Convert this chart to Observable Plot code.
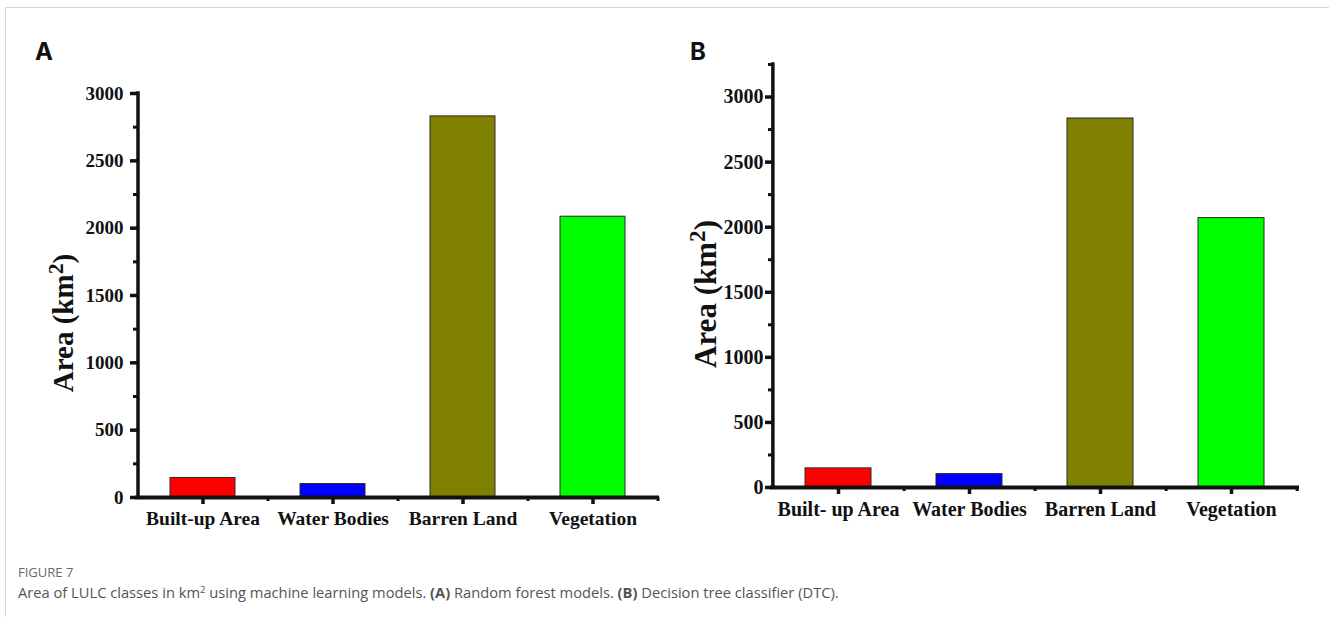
<!DOCTYPE html>
<html>
<head>
<meta charset="utf-8">
<script src="https://cdn.jsdelivr.net/npm/d3@7"></script>
<script src="https://cdn.jsdelivr.net/npm/@observablehq/plot@0.6"></script>
<style>
  html, body { margin: 0; padding: 0; background: #fff; }
  #fig { position: relative; width: 1329px; height: 617px; overflow: hidden; background: #fff; }
  #frame { position: absolute; left: 5px; top: 7px; right: -2px; bottom: -2px; border-top: 1px solid #d6d6d6; border-left: 1px solid #d6d6d6; }
  .panel { position: absolute; top: 0; }
  .letter { position: absolute; font-family: Inter, "Noto Sans", sans-serif; font-weight: 700; font-size: 24px; line-height: 1; color: #111; }
  .ylab { position: absolute; font-family: "Liberation Serif", "Times New Roman", serif; font-weight: bold; color: #111; white-space: nowrap; line-height: 1; transform: translate(-50%, -50%) rotate(-90deg); }
  .ylab sup { font-size: 0.75em; vertical-align: 0.45em; line-height: 0; }
  #cap1 { position: absolute; left: 18px; top: 563px; font-family: "Open Sans", "Noto Sans", sans-serif; font-size: 13px; color: #6a6a6a; }
  #cap2 { position: absolute; left: 18px; top: 582px; font-family: "Open Sans", "Noto Sans", sans-serif; font-size: 14.7px; color: #555; white-space: nowrap; }
  #cap2 sup { font-size: 0.65em; vertical-align: 0.5em; line-height: 0; }
</style>
</head>
<body>
<div id="fig">
  <div id="frame"></div>
  <div class="letter" style="left:35px; top:40px;">A</div>
  <div class="letter" style="left:690px; top:40px;">B</div>
  <div id="panelA" class="panel" style="left:0px;"></div>
  <div id="panelB" class="panel" style="left:680px;"></div>
  <div class="ylab" style="left:63px; top:323px; font-size:29px;">Area (km<sup>2</sup>)</div>
  <div class="ylab" style="left:705px; top:294px; font-size:31px;">Area (km<sup>2</sup>)</div>
  <div id="cap1">FIGURE 7</div>
  <div id="cap2">Area of LULC classes in km<sup>2</sup> using machine learning models. <b>(A)</b> Random forest models. <b>(B)</b> Decision tree classifier (DTC).</div>
</div>
<script>
// ---- data ----
const categoriesA = ["Built-up Area", "Water Bodies", "Barren Land", "Vegetation"];
const categoriesB = ["Built- up Area", "Water Bodies", "Barren Land", "Vegetation"];
const valuesA = [145, 100, 2830, 2085];
const valuesB = [147, 103, 2835, 2070];
const barColors = ["#ff0000", "#0000ff", "#808000", "#00ff00"];
const yMajorTicksA = [0, 500, 1000, 1500, 2000, 2500, 3000];
const yMinorTicksA = [250, 750, 1250, 1750, 2250, 2750];
const yMajorTicksB = [0, 500, 1000, 1500, 2000, 2500, 3000];
const yMinorTicksB = [250, 750, 1250, 1750, 2250, 2750, 3250];
const yDomainA = [0, 3000];
const yDomainB = [0, 3250];

function panel(cfg) {
  const data = cfg.cats.map((c, i) => ({cat: c, value: cfg.vals[i], color: barColors[i]}));
  const step = (cfg.width - cfg.marginLeft - cfg.marginRight) / cfg.cats.length;
  return Plot.plot({
    width: cfg.width,
    height: cfg.height,
    marginLeft: cfg.marginLeft,
    marginRight: cfg.marginRight,
    marginTop: cfg.marginTop,
    marginBottom: cfg.marginBottom,
    style: {fontFamily: "'Liberation Serif', 'Times New Roman', serif", fontWeight: "bold", background: "transparent", overflow: "visible", color: "#111"},
    x: {domain: cfg.cats, paddingInner: 0.5, paddingOuter: 0.25, axis: null},
    y: {domain: cfg.yDomain, axis: null},
    marks: [
      Plot.barY(data, {x: "cat", y: "value", fill: "color", stroke: "#2a2a2a", strokeWidth: 1}),
      Plot.axisY({ticks: cfg.minors, tickSize: 4, strokeWidth: 3, stroke: "#111", tickFormat: () => "", label: null}),
      Plot.axisY({ticks: cfg.majors, tickSize: 7, strokeWidth: 3.5, stroke: "#111", fill: "#111", tickPadding: cfg.yPad, fontSize: cfg.yFont, tickFormat: d => String(d), label: null}),
      Plot.axisX({tickSize: 4, strokeWidth: 3, stroke: "#111", tickFormat: () => "", dx: step / 2, label: null}),
      Plot.axisX({tickSize: 7, strokeWidth: 3.5, stroke: "#111", fill: "#111", tickPadding: cfg.xPad, fontSize: cfg.xFont, label: null}),
      Plot.ruleY([0], {stroke: "#111", strokeWidth: 4, strokeLinecap: "square"}),
      Plot.ruleX([cfg.cats[0]], {dx: -step / 2, y1: 0, y2: cfg.yDomain[1], stroke: "#111", strokeWidth: 3.5, strokeLinecap: "square"})
    ]
  });
}

document.getElementById("panelA").append(panel({
  cats: categoriesA, vals: valuesA, yDomain: yDomainA, majors: yMajorTicksA, minors: yMinorTicksA,
  width: 680, height: 545, marginLeft: 137, marginRight: 23, marginTop: 93, marginBottom: 48,
  yPad: 7, yFont: 19, xPad: 7, xFont: 19.5
}));
document.getElementById("panelB").append(panel({
  cats: categoriesB, vals: valuesB, yDomain: yDomainB, majors: yMajorTicksB, minors: yMinorTicksB,
  width: 649, height: 545, marginLeft: 92, marginRight: 32, marginTop: 64, marginBottom: 58,
  yPad: 2, yFont: 20, xPad: 7, xFont: 20
}));
</script>
</body>
</html>
